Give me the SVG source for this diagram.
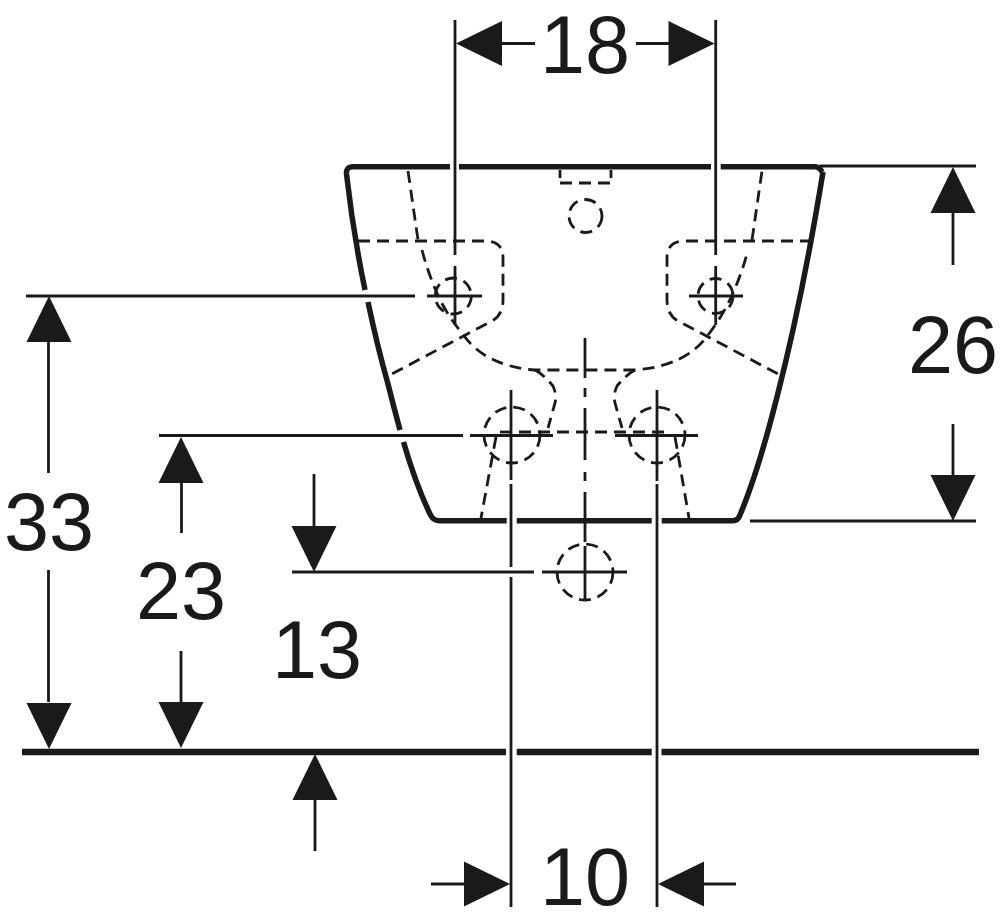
<svg xmlns="http://www.w3.org/2000/svg" width="1000" height="920" viewBox="0 0 1000 920">
<style>
.o{fill:none;stroke:#1a1a1a;stroke-width:5.500;stroke-linejoin:round}
.h{fill:none;stroke:#1a1a1a;stroke-width:2.800;stroke-dasharray:12 7}
.l{fill:none;stroke:#1a1a1a;stroke-width:2.800}
.a{fill:#1a1a1a}
text{font-family:"Liberation Sans",Arial,sans-serif;font-size:81px;fill:#1a1a1a;text-anchor:middle}
</style>
<defs>
<polygon id="up" class="a" points="0,0 22.500,46 -22.500,46"/>
<polygon id="dn" class="a" points="0,0 22.500,-46 -22.500,-46"/>
<polygon id="lt" class="a" points="0,0 46,-22.500 46,22.500"/>
<polygon id="rt" class="a" points="0,0 -46,-22.500 -46,22.500"/>
</defs>
<rect width="1000" height="920" fill="#fff"/>
<g id="outline">
<path class="o" d="M450 166.700H353Q346 166.700 346.500 174Q353 232 365 290"/>
<path class="o" d="M368 302Q377 345 388 384Q394 408 400 430"/>
<path class="o" d="M403.500 442Q416 485 430 514Q433 520.700 439 520.700H506.700"/>
<path class="o" d="M516.700 520.700H651.700"/>
<path class="o" d="M661.700 520.700H733Q738 520.700 740 515Q758 472 777 397Q802 300 823 172"/>
<path class="o" d="M459 166.700H711"/>
<path class="o" d="M720.700 166.700H815Q820 167 822 172"/>
<path class="o" style="stroke-width:6.500" d="M22 752H506M516.700 752H651.700M661.500 752H979"/>
</g>
<g id="hidden">
<path class="h" d="M408 171L418 240M422 250Q428 273 437 293Q446 314 462 333Q484 366 535 370H635Q686 366 708 335Q724 314 733 293Q742 273 748 250M752 240L762 171"/>
<path class="h" d="M358 241H485Q503 241 503 258V300Q503 316 490 322L388 376"/>
<path class="h" d="M812 241H685Q667 241 667 258V300Q667 316 680 322L782 376"/>
<path class="h" d="M560 170V178"/>
<path class="h" d="M611 170V178"/>
<path class="h" d="M560 183H612"/>
<path class="h" d="M535 370Q543 374 553 386Q557 395 555 403L548 428"/>
<path class="h" d="M635 370Q627 374 617 386Q613 395 615 403L622 428"/>
<path class="h" d="M500 432H670"/>
<path class="h" d="M496 437L481 518"/>
<path class="h" d="M675 437L689 518"/>
<circle class="h" cx="585.500" cy="216" r="16.500" stroke-dasharray="9 6"/>
<circle class="h" cx="453.300" cy="296" r="18" stroke-dasharray="10 6"/>
<circle class="h" cx="715.500" cy="296" r="17.500" stroke-dasharray="10 6"/>
<circle class="h" cx="512" cy="435" r="28"/>
<circle class="h" cx="657" cy="435" r="28"/>
<circle class="h" cx="585" cy="572" r="28"/>
</g>
<g id="connectors">
<path class="l" d="M455 20V255M455 266V325M427 296H482M26 296H415"/>
<path class="l" d="M715.700 20V255M715.700 266V325M689 296H743"/>
<path class="l" d="M502 43.500H535M636 43.500H670"/>
<path class="l" d="M820 166H976M750 521H976M953 212V265M953 424V476"/>
<path class="l" d="M48.500 342V473M48.500 570V702"/>
<path class="l" d="M159 435.500H463M470 435.500H553M615 435.500H698M181.500 482V533M181 651V702"/>
<path class="l" d="M314 474V527M292 572H534M542 572H627M315 798V851"/>
<path class="l" d="M511 390V480M511 484V567M511 577V907"/>
<path class="l" d="M657 390V481M657 484V907"/>
<path class="l" d="M585 338V378M585 388V397M585 408V460M585 472V481M585 492V542M585 546V600"/>
<path class="l" d="M431 884H465M703 884H736"/>
<use href="#lt" x="456" y="43.500"/><use href="#rt" x="714.500" y="43.500"/>
<use href="#up" x="953" y="167"/><use href="#dn" x="953" y="521"/>
<use href="#up" x="49" y="296"/><use href="#dn" x="49" y="749"/>
<use href="#up" x="181" y="437"/><use href="#dn" x="181" y="748"/>
<use href="#dn" x="314" y="572"/><use href="#up" x="315" y="754"/>
<use href="#rt" x="510" y="884"/><use href="#lt" x="658" y="884"/>
</g>
<g id="labels">
<text x="585" y="73">18</text>
<text x="953" y="373">26</text>
<text x="49" y="550">33</text>
<text x="181" y="619">23</text>
<text x="317" y="678">13</text>
<text x="585" y="905">10</text>
</g>
</svg>
